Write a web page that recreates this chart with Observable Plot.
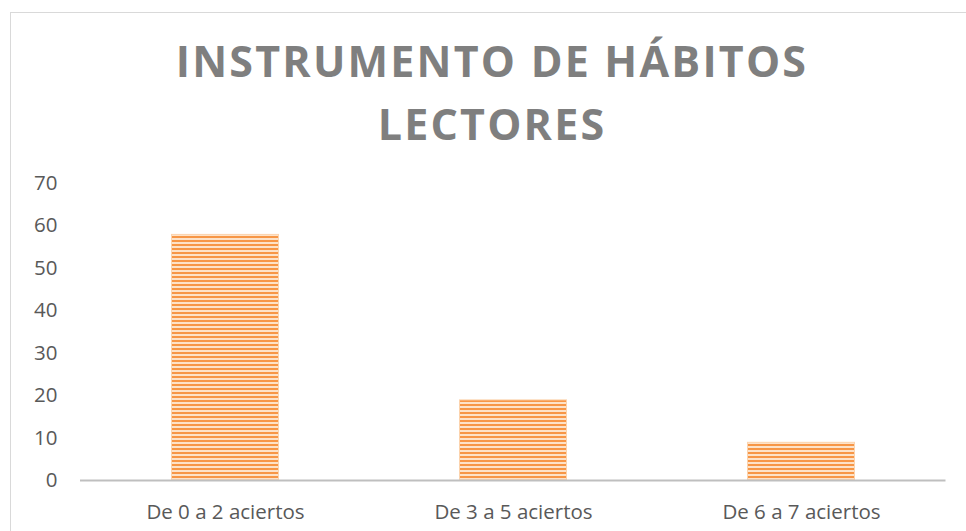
<!DOCTYPE html>
<html>
<head>
<meta charset="utf-8">
<script src="https://cdn.jsdelivr.net/npm/d3@7"></script>
<script src="https://cdn.jsdelivr.net/npm/@observablehq/plot@0.6"></script>
<style>
  html, body { margin: 0; padding: 0; background: #fff; }
  #wrap { position: relative; width: 966px; height: 531px; overflow: hidden; }
  #border { position: absolute; left: 10px; top: 12px; width: 980px; height: 540px; border: 1px solid #d9d9d9; box-sizing: border-box; }
  #title { position: absolute; left: 0; top: 29px; width: 984px; text-align: center;
    font-family: "Open Sans", sans-serif; font-weight: bold; font-size: 43px; line-height: 63px;
    letter-spacing: 2.2px; color: #7f7f7f; }
  #chart { position: absolute; left: 0; top: 0; }
</style>
</head>
<body>
<div id="wrap">
  <div id="border"></div>
  <div id="title">INSTRUMENTO DE HÁBITOS<br>LECTORES</div>
  <div id="chart"></div>
</div>
<script>
const categories = ["De 0 a 2 aciertos", "De 3 a 5 aciertos", "De 6 a 7 aciertos"];
const values = [58, 19, 9];
const yTicks = [0, 10, 20, 30, 40, 50, 60, 70];

const data = categories.map((c, i) => ({category: c, value: values[i]}));

const chart = Plot.plot({
  width: 966,
  height: 531,
  marginLeft: 80,
  marginRight: 20.5,
  marginTop: 183,
  marginBottom: 51,
  style: {fontFamily: "'Open Sans', sans-serif", fontSize: "20.5px", color: "#595959", background: "transparent"},
  x: {domain: categories, paddingInner: 0.625, paddingOuter: 0.3125, label: null, tickSize: 0, tickPadding: 24},
  y: {domain: [0, 70], ticks: yTicks, label: null, tickSize: 0, tickPadding: 23},
  marks: [
    Plot.barY(data, {x: "category", y: "value", fill: "url(#stripes)", stroke: "#fcd3ad", strokeWidth: 1, inset: 0.5}),
    Plot.ruleY([0], {stroke: "#bfbfbf", strokeWidth: 2})
  ]
});

const svg = d3.select(chart);
const defs = svg.insert("defs", ":first-child");
const pat = defs.append("pattern")
  .attr("id", "stripes")
  .attr("patternUnits", "userSpaceOnUse")
  .attr("width", 8)
  .attr("height", 4);
pat.append("rect").attr("width", 8).attr("height", 4).attr("fill", "#fde2c8");
pat.append("rect").attr("y", 0).attr("width", 8).attr("height", 2).attr("fill", "#f79646");

document.getElementById("chart").appendChild(chart);
</script>
</body>
</html>
